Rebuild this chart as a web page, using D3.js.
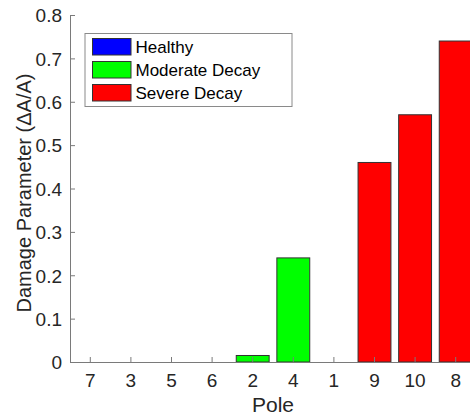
<!DOCTYPE html>
<html>
<head>
<meta charset="utf-8">
<script src="https://cdn.jsdelivr.net/npm/d3@7"></script>
<style>
  html, body { margin: 0; padding: 0; background: #fff; }
  svg { display: block; font-family: "Liberation Sans", Arial, sans-serif; }
</style>
</head>
<body>
<svg id="chart" width="470" height="418"></svg>
<script>
// Pole order along the x axis and the measured damage parameter of each
const poles = ["7", "3", "5", "6", "2", "4", "1", "9", "10", "8"];
const damage = [0, 0, 0, 0, 0.015, 0.24, 0, 0.46, 0.57, 0.74];
const condition = ["Healthy", "Healthy", "Healthy", "Healthy", "Moderate Decay",
                   "Moderate Decay", "Healthy", "Severe Decay", "Severe Decay", "Severe Decay"];
const classes = ["Healthy", "Moderate Decay", "Severe Decay"];
const classColors = ["#0000ff", "#00ff00", "#ff0000"];
const yTicks = [0, 0.1, 0.2, 0.3, 0.4, 0.5, 0.6, 0.7, 0.8];

const svg = d3.select("#chart");
const plotLeft = 70, plotTop = 15, plotRight = 476, plotBottom = 362;

const x = d3.scaleBand().domain(poles).range([plotLeft, plotRight]).paddingInner(0.19).paddingOuter(0.095);
const y = d3.scaleLinear().domain([0, 0.8]).range([plotBottom, plotTop]);
const color = d3.scaleOrdinal().domain(classes).range(classColors);

const rows = poles.map((p, i) => ({ pole: p, value: damage[i], cls: condition[i] }));

// Bars
svg.append("g").selectAll("rect").data(rows.filter(d => d.value > 0)).join("rect")
  .attr("x", d => x(d.pole))
  .attr("y", d => y(d.value))
  .attr("width", x.bandwidth())
  .attr("height", d => y(0) - y(d.value))
  .attr("fill", d => color(d.cls))
  .attr("stroke", "#333")
  .attr("stroke-width", 1);

// Axes, ticks pointing into the plot
const axisColor = "#7a7a7a";
const textColor = "#262626";

const xAxis = svg.append("g").attr("transform", `translate(0,${plotBottom})`)
  .call(d3.axisBottom(x).tickSizeInner(-5).tickSizeOuter(0).tickPadding(12));
const yAxis = svg.append("g").attr("transform", `translate(${plotLeft},0)`)
  .call(d3.axisLeft(y).tickValues(yTicks).tickFormat(d => d === 0 ? "0" : d3.format(".1f")(d))
        .tickSizeInner(-5).tickSizeOuter(0).tickPadding(8));

[xAxis, yAxis].forEach(g => {
  g.select(".domain").attr("stroke", axisColor).attr("stroke-width", 1);
  g.selectAll(".tick line").attr("stroke", axisColor);
  g.selectAll(".tick text").attr("fill", textColor).attr("font-size", 19)
    .attr("font-family", "'Liberation Sans', Arial, sans-serif");
});
xAxis.select(".domain").attr("d", `M${plotLeft},0.5H${plotRight}`);
yAxis.selectAll(".tick text").attr("dy", "0.36em");

// Axis titles
svg.append("text")
  .attr("x", (plotLeft + plotRight) / 2).attr("y", 412)
  .attr("text-anchor", "middle").attr("font-size", 21).attr("fill", textColor)
  .text("Pole");
svg.append("text")
  .attr("transform", `translate(31,193) rotate(-90)`)
  .attr("text-anchor", "middle").attr("font-size", 20).attr("fill", textColor)
  .text("Damage Parameter (ΔA/A)");

// Legend
const lg = svg.append("g").attr("transform", "translate(85,33.5)");
lg.append("rect").attr("width", 207).attr("height", 73)
  .attr("fill", "#fff").attr("stroke", "#8a8a8a").attr("stroke-width", 1);
classes.forEach((c, i) => {
  const row = lg.append("g").attr("transform", `translate(7.5,${5 + i * 23})`);
  row.append("rect").attr("width", 38.5).attr("height", 16.5)
    .attr("fill", color(c)).attr("stroke", "#333").attr("stroke-width", 1);
  row.append("text").attr("x", 43).attr("y", 8.5).attr("dy", "0.36em")
    .attr("font-size", 17).attr("fill", "#000").text(c);
});
</script>
</body>
</html>
